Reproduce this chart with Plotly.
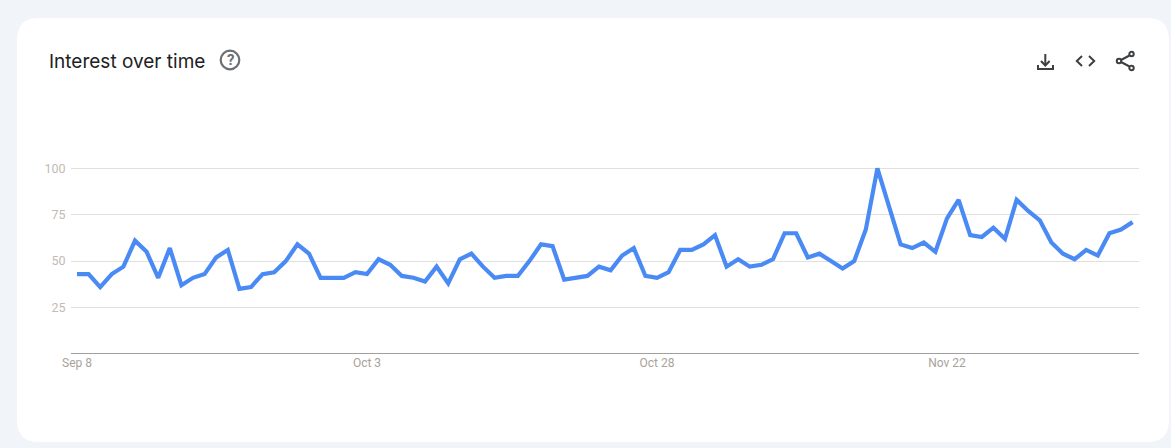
import plotly.graph_objects as go

title = "Interest over time"
tick_days = [0, 25, 50, 75]
tick_labels = ["Sep 8", "Oct 3", "Oct 28", "Nov 22"]
y_ticks = [25, 50, 75, 100]
values = [43, 43, 36, 43, 47, 61, 55, 41, 57, 37, 41, 43, 52, 56, 35, 36, 43, 44, 50, 59,
          54, 41, 41, 41, 44, 43, 51, 48, 42, 41, 39, 47, 38, 51, 54, 47, 41, 42, 42, 50,
          59, 58, 40, 41, 42, 47, 45, 53, 57, 42, 41, 44, 56, 56, 59, 64, 47, 51, 47, 48,
          51, 65, 65, 52, 54, 50, 46, 50, 67, 100, 80, 59, 57, 60, 55, 73, 83, 64, 63, 68,
          62, 83, 77, 72, 60, 54, 51, 56, 53, 65, 67, 71]
days = list(range(len(values)))

W, H = 1171, 448
BG = "#f1f4f9"
INK = "#3c4043"


def X(p):
    return p / W


def Y(p):
    return 1 - p / H


def path(points, close=False):
    d = " ".join(("M" if i == 0 else "L") + f"{X(a):.5f},{Y(b):.5f}" for i, (a, b) in enumerate(points))
    return d + (" Z" if close else "")


def shape_path(points, color=INK, width=2):
    return dict(type="path", xref="paper", yref="paper", path=path(points),
                line=dict(color=color, width=width), fillcolor="rgba(0,0,0,0)", layer="above")


def circle(cx, cy, r, color=INK, width=2):
    return dict(type="circle", xref="paper", yref="paper", x0=X(cx - r), x1=X(cx + r),
                y0=Y(cy + r), y1=Y(cy - r), line=dict(color=color, width=width),
                fillcolor="rgba(0,0,0,0)", layer="above")


# white rounded card
l, t, r, b, rad = 17, 18, 1169, 442, 22
card = (
    f"M{X(l + rad):.5f},{Y(t):.5f} L{X(r - rad):.5f},{Y(t):.5f} "
    f"Q{X(r):.5f},{Y(t):.5f} {X(r):.5f},{Y(t + rad):.5f} "
    f"L{X(r):.5f},{Y(b - rad):.5f} Q{X(r):.5f},{Y(b):.5f} {X(r - rad):.5f},{Y(b):.5f} "
    f"L{X(l + rad):.5f},{Y(b):.5f} Q{X(l):.5f},{Y(b):.5f} {X(l):.5f},{Y(b - rad):.5f} "
    f"L{X(l):.5f},{Y(t + rad):.5f} Q{X(l):.5f},{Y(t):.5f} {X(l + rad):.5f},{Y(t):.5f} Z"
)

shapes = [
    dict(type="path", xref="paper", yref="paper", path=card, fillcolor="#ffffff",
         line=dict(width=0), layer="below"),
    circle(230, 60, 9.3, "#6b6f73", 2.2),
    # download
    shape_path([(1045.3, 54), (1045.3, 65)]),
    shape_path([(1041, 61), (1045.3, 65.5), (1049.6, 61)]),
    shape_path([(1038, 65), (1038, 69), (1053, 69), (1053, 65)]),
    # embed
    shape_path([(1082, 56), (1076.8, 61), (1082, 66)]),
    shape_path([(1089, 56), (1094.2, 61), (1089, 66)]),
    # share
    shape_path([(1129.5, 55.5), (1121, 60), ]),
    shape_path([(1121, 62), (1129.5, 66.5)]),
    circle(1131.5, 54, 2.2),
    circle(1119, 61, 2.2),
    circle(1131.5, 68, 2.2),
]

annotations = [
    dict(text=title, xref="paper", yref="paper", x=X(47), y=Y(61), xanchor="left", yanchor="middle",
         showarrow=False, font=dict(family="Inter, Roboto, sans-serif", size=19, color="#202124")),
    dict(text="<b>?</b>", xref="paper", yref="paper", x=X(230), y=Y(60), xanchor="center", yanchor="middle",
         showarrow=False, font=dict(family="Roboto", size=15, color="#6b6f73")),
]

fig = go.Figure(go.Scatter(x=days, y=values, mode="lines", hoverinfo="skip",
                           line=dict(color="#4a8af4", width=4.2, shape="linear")))

fig.update_layout(
    template="none",
    width=W, height=H,
    margin=dict(l=0, r=0, t=0, b=0, pad=0),
    paper_bgcolor=BG, plot_bgcolor="rgba(0,0,0,0)",
    showlegend=False,
    shapes=shapes, annotations=annotations,
    xaxis=dict(domain=[X(71), X(1139)], range=[(71 - 77) / 11.6, (1139 - 77) / 11.6], automargin=False,
               tickmode="array", tickvals=tick_days, ticktext=tick_labels,
               showgrid=False, zeroline=False, showline=True, linecolor="#a0a0a0", linewidth=1,
               ticks="", ticklabelstandoff=-1, tickfont=dict(family="Roboto", size=12, color="#a8a29a")),
    yaxis=dict(domain=[Y(352.6), Y(166.8)], range=[0.7, 100.8], automargin=False,
               tickmode="array", tickvals=y_ticks,
               showgrid=True, gridcolor="#e0e0e0", gridwidth=1, zeroline=False, showline=False,
               ticks="outside", ticklen=2, tickcolor="rgba(0,0,0,0)",
               tickfont=dict(family="Roboto", size=12.5, color="#bfbbb6")),
)

fig.write_html("out.html", post_script=(
    "document.body.style.margin='0';document.body.style.overflow='hidden';"
    f"document.body.style.background='{BG}';"
), config=dict(displayModeBar=False))
